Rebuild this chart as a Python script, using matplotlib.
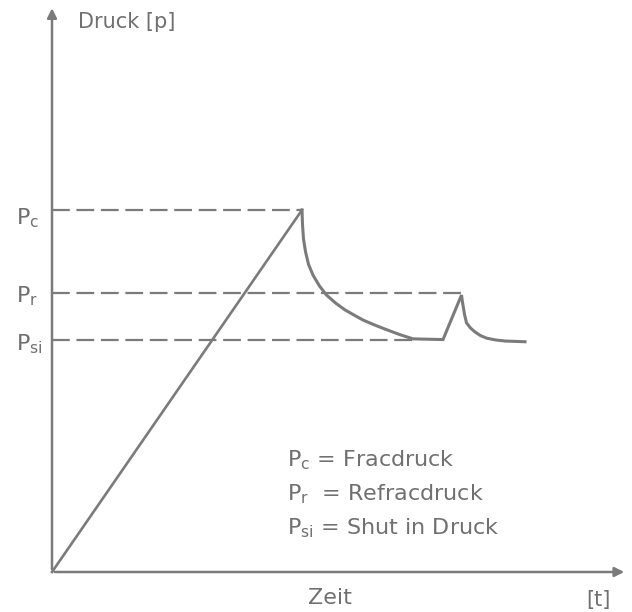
import matplotlib
matplotlib.use("Agg")
import matplotlib.pyplot as plt

plt.rcParams['font.family'] = ['DejaVu Sans']
plt.rcParams['mathtext.default'] = 'regular'

GRAY = '#7b7b7b'
TXT = '#707070'

# pressure levels (arbitrary units)
p_c = 10.0
p_r = 7.7
p_si = 6.4

# ramp up to frac pressure
ramp_t = [0.0, 5.0]
ramp_p = [0.0, p_c]

# decay after frac, shut in, refrac, decay again
curve_t = [5.0, 5.01, 5.03, 5.07, 5.13, 5.22, 5.35, 5.49, 5.68, 5.86, 6.05,
           6.22, 6.44, 6.66, 6.95, 7.22, 7.82,
           8.19, 8.21, 8.25, 8.29, 8.37, 8.46, 8.57, 8.69, 8.87, 9.06, 9.46]
curve_p = [10.0, 9.6, 9.2, 8.85, 8.5, 8.2, 7.9, 7.65, 7.42, 7.24, 7.09,
           6.96, 6.83, 6.71, 6.56, 6.44, 6.42,
           7.65, 7.45, 7.12, 6.88, 6.74, 6.63, 6.53, 6.46, 6.41, 6.38, 6.36]

# where the dashed helper lines end
dash_end = [5.0, 8.19, 7.3]
levels = [p_c, p_r, p_si]
level_labels = ['$P_c$', '$P_r$', '$P_{si}$']

legend_lines = ['$P_c$ = Fracdruck', '$P_r$  = Refracdruck', '$P_{si}$ = Shut in Druck']

fig = plt.figure(figsize=(6.32, 6.12), dpi=100)
ax = fig.add_axes([0, 0, 1, 1])
ax.set_xlim(-1.04, 11.6)
ax.set_ylim(-1.105, 15.8)
ax.axis('off')

# axes with arrows
ax.annotate('', xy=(11.5, 0), xytext=(0, 0),
            arrowprops=dict(arrowstyle='-|>', color=GRAY, lw=1.8, mutation_scale=14))
ax.annotate('', xy=(0, 15.65), xytext=(0, 0),
            arrowprops=dict(arrowstyle='-|>', color=GRAY, lw=1.8, mutation_scale=14))

# dashed reference levels
for lvl, end in zip(levels, dash_end):
    ax.plot([0, end], [lvl, lvl], color=GRAY, lw=1.6, dashes=(8, 3))

ax.plot(ramp_t, ramp_p, color=GRAY, lw=1.9)
ax.plot(curve_t, curve_p, color=GRAY, lw=2.2, solid_joinstyle='miter')

# level labels on the left
label_y = [9.78, 7.62, 6.3]
for lab, y in zip(level_labels, label_y):
    ax.text(-0.72, y, lab, fontsize=16, color=TXT, ha='left', va='center')

# legend text
for i, line in enumerate(legend_lines):
    ax.text(4.7, 3.1 - i * 0.95, line, fontsize=16, color=TXT, ha='left', va='center')

ax.text(0.52, 15.2, 'Druck [p]', fontsize=15, color=TXT, ha='left', va='center')
ax.text(5.56, -0.72, 'Zeit', fontsize=16, color=TXT, ha='center', va='center')
ax.text(10.92, -0.77, '[t]', fontsize=15, color=TXT, ha='center', va='center')

fig.savefig('out.png', dpi=100, facecolor='white')
